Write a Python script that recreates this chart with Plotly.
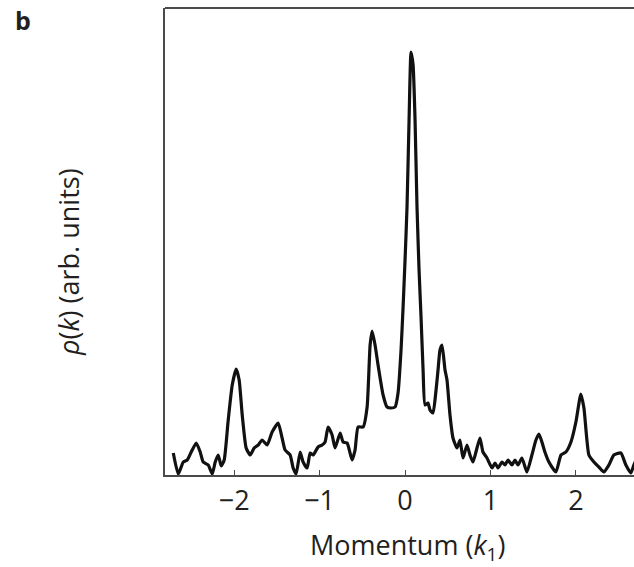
import plotly.graph_objects as go

# Momentum distribution rho(k) along k1 (arbitrary units)
momentum = [
    -2.713, -2.655, -2.596, -2.550, -2.503, -2.444, -2.398, -2.363, -2.304, -2.257,
    -2.222, -2.187, -2.152, -2.117, -2.070, -2.023, -1.977, -1.942, -1.906, -1.860,
    -1.813, -1.766, -1.719, -1.673, -1.614, -1.556, -1.485, -1.439, -1.404, -1.345,
    -1.310, -1.275, -1.228, -1.193, -1.146, -1.111, -1.076, -1.018, -0.971, -0.936,
    -0.901, -0.854, -0.819, -0.760, -0.725, -0.678, -0.620, -0.585, -0.550, -0.491,
    -0.444, -0.409, -0.386, -0.351, -0.316, -0.257, -0.211, -0.164, -0.117, -0.082,
    -0.047, -0.023, 0.000, 0.023, 0.047, 0.070, 0.094, 0.117, 0.140, 0.164,
    0.187, 0.211, 0.234, 0.269, 0.292, 0.327, 0.363, 0.386, 0.409, 0.433,
    0.468, 0.491, 0.526, 0.561, 0.608, 0.643, 0.678, 0.725, 0.760, 0.795,
    0.842, 0.877, 0.912, 0.959, 1.018, 1.053, 1.088, 1.135, 1.170, 1.205,
    1.251, 1.287, 1.322, 1.368, 1.427, 1.485, 1.532, 1.567, 1.602, 1.637,
    1.684, 1.766, 1.825, 1.883, 1.942, 2.000, 2.058, 2.094, 2.152, 2.211,
    2.269, 2.327, 2.386, 2.444, 2.526, 2.585, 2.643, 2.678, 2.720,
]
density = [
    22, 1, 13, 15, 23, 32, 23, 13, 10, 1,
    13, 20, 9, 15, 55, 90, 106, 95, 60, 27,
    20, 27, 30, 35, 30, 43, 52, 37, 25, 20,
    7, 1, 23, 13, 7, 22, 20, 28, 30, 33,
    48, 40, 27, 42, 33, 32, 15, 25, 48, 48,
    68, 130, 144, 130, 110, 80, 68, 67, 68, 82,
    125, 168, 215, 268, 355, 423, 410, 355, 268, 205,
    158, 105, 70, 72, 65, 62, 85, 105, 125, 130,
    105, 95, 60, 37, 27, 35, 17, 30, 20, 13,
    27, 37, 23, 17, 7, 12, 7, 13, 10, 15,
    10, 15, 10, 17, 3, 20, 35, 41, 33, 23,
    13, 3, 20, 23, 33, 53, 81, 67, 20, 13,
    8, 3, 10, 20, 22, 10, 2, 10, 18,
]
tick_values = [-2, -1, 0, 1, 2]

axis_color = "#4a4a4a"
text_color = "#231f20"
font_family = "Open Sans, Noto Sans, sans-serif"

fig = go.Figure(
    go.Scatter(
        x=momentum,
        y=density,
        mode="lines",
        line=dict(color="#111111", width=3.2, shape="spline", smoothing=0.5),
        cliponaxis=True,
        hoverinfo="skip",
    )
)

fig.update_layout(
    width=634,
    height=567,
    margin=dict(l=165, r=0, t=8, b=92),
    paper_bgcolor="white",
    plot_bgcolor="white",
    showlegend=False,
    font=dict(family=font_family, color=text_color),
    xaxis=dict(
        range=[-2.81, 2.68],
        tickvals=tick_values,
        ticks="inside",
        ticklen=5,
        tickwidth=1,
        tickcolor=axis_color,
        showline=True,
        linecolor=axis_color,
        linewidth=2,
        showgrid=False,
        zeroline=False,
        tickfont=dict(size=27, color=text_color),
        ticklabelstandoff=1,
        fixedrange=True,
    ),
    yaxis=dict(
        range=[0, 467],
        showticklabels=False,
        ticks="",
        showline=True,
        linecolor=axis_color,
        linewidth=2,
        showgrid=False,
        zeroline=False,
        fixedrange=True,
    ),
    shapes=[
        dict(
            type="line", xref="paper", yref="paper",
            x0=0, x1=1, y0=1, y1=1,
            line=dict(color=axis_color, width=2),
        )
    ],
    annotations=[
        dict(
            text="Momentum (<i>k</i><sub>1</sub>)",
            xref="paper", yref="paper",
            x=(407 - 165) / 469, y=-(546 - 475) / 467,
            xanchor="center", yanchor="middle",
            showarrow=False,
            font=dict(size=27, color=text_color),
        ),
        dict(
            text="<i>ρ</i>(<i>k</i>) (arb. units)",
            xref="paper", yref="paper",
            x=-(165 - 68) / 469, y=(475 - 262) / 467,
            xanchor="center", yanchor="middle",
            textangle=-90,
            showarrow=False,
            font=dict(size=27, color=text_color),
        ),
        dict(
            text="<b>b</b>",
            xref="paper", yref="paper",
            x=-(165 - 23) / 469, y=(475 - 20) / 467,
            xanchor="center", yanchor="middle",
            showarrow=False,
            font=dict(size=25, color=text_color),
        ),
    ],
)

fig.write_html("out.html")
